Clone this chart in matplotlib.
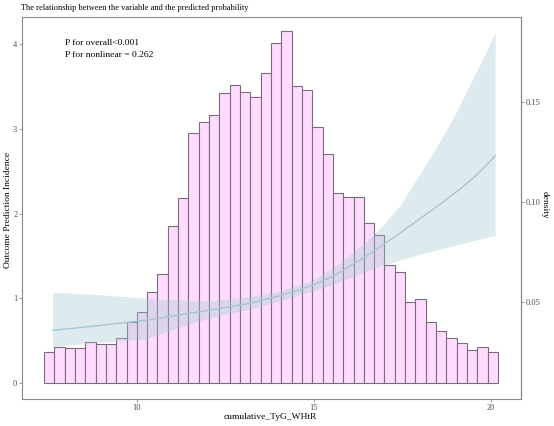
import numpy as np
import matplotlib
matplotlib.use('Agg')
import matplotlib.pyplot as plt

plt.rcParams['font.family'] = ['Liberation Serif', 'DejaVu Serif']

# --- histogram (heights in left-axis units) ---
bin_edges = np.linspace(7.38, 20.2, 45)
bar_heights = [0.363, 0.426, 0.41, 0.41, 0.48, 0.458, 0.458, 0.529, 0.714, 0.84,
               1.073, 1.29, 1.854, 2.185, 2.947, 3.085, 3.168, 3.428, 3.523, 3.44,
               3.38, 3.653, 4.008, 4.15, 3.5, 3.456, 3.02, 2.706, 2.245, 2.198,
               2.193, 1.89, 1.743, 1.388, 1.314, 0.955, 0.99, 0.714, 0.61, 0.529,
               0.47, 0.387, 0.422, 0.37]

# --- prediction curve with CI ---
curve_x = [7.62, 9.0, 10.27, 11.0, 12.07, 13.2, 14.05, 14.61, 15.0, 15.55, 16.49,
           16.95, 17.44, 18.10, 18.57, 19.04, 19.51, 19.8, 20.12]
curve_fit = [0.62, 0.68, 0.74, 0.79, 0.86, 0.94, 1.03, 1.10, 1.16, 1.26, 1.50,
             1.63, 1.77, 1.97, 2.11, 2.26, 2.42, 2.54, 2.68]
curve_lo = [0.43, 0.48, 0.52, 0.63, 0.77, 0.87, 0.97, 1.04, 1.09, 1.16, 1.32,
            1.39, 1.45, 1.53, 1.58, 1.63, 1.68, 1.71, 1.74]
curve_hi = [1.07, 1.04, 1.00, 0.98, 0.97, 1.02, 1.09, 1.16, 1.22, 1.36, 1.67,
            1.86, 2.10, 2.54, 2.86, 3.21, 3.61, 3.85, 4.14]

p_lines = ['P for overall<0.001', 'P for nonlinear = 0.262']

# secondary axis: density = a + b * prediction
dens_a, dens_b = 0.00925, 0.0425

W, H = 554, 426
fig = plt.figure(figsize=(W / 100, H / 100), dpi=100)
ax = fig.add_axes([22 / W, 27 / H, 499 / W, 382 / H])

widths = np.diff(bin_edges)
ax.bar(bin_edges[:-1], bar_heights, width=widths, align='edge',
       color='#ffdcff', edgecolor='#7a6c7a', linewidth=0.8, zorder=1)
ax.fill_between(curve_x, curve_lo, curve_hi, color='#a3c6d1', alpha=0.36,
                linewidth=0, zorder=2)
ax.plot(curve_x, curve_fit, color='#a6c6d4', linewidth=1.0, zorder=3)

ax.set_xlim(6.76, 20.85)
ax.set_ylim(-0.19, 4.32)
ax.set_xticks([10, 15, 20])
ax.set_yticks([0, 1, 2, 3, 4])

sec = ax.secondary_yaxis('right', functions=(lambda p: dens_a + dens_b * p,
                                             lambda d: (d - dens_a) / dens_b))
sec.set_yticks([0.05, 0.10, 0.15])
sec.set_yticklabels(['0.05', '0.10', '0.15'])

for a in (ax, sec):
    a.tick_params(labelsize=6, colors='#888888', labelcolor='#4d4d4d',
                  length=2.2, width=0.6, pad=1.2)
for s in ax.spines.values():
    s.set_color('#888888')
    s.set_linewidth(0.8)
sec.spines['right'].set_color('#888888')
sec.spines['right'].set_linewidth(0.8)

fig.text(270 / W, 1 - 417 / H, 'cumulative_TyG_WHtR', fontsize=6.8,
         ha='center', va='center')
fig.text(8 / W, 1 - 210 / H, 'Outcome Prediction Incidence', fontsize=6.8,
         ha='center', va='center', rotation=90)
fig.text(545 / W, 1 - 205 / H, 'density', fontsize=6.8,
         ha='center', va='center', rotation=-90)

# annotation lines
for i, line in enumerate(p_lines):
    ax.text(7.98, 4.01 - i * 0.142, line, fontsize=6.8, va='center', ha='left')

fig.text(21 / W, 1 - 8 / H,
         'The relationship between the variable and the predicted probability',
         fontsize=6.0, va='center', ha='left')

fig.savefig('out.png', dpi=100)
